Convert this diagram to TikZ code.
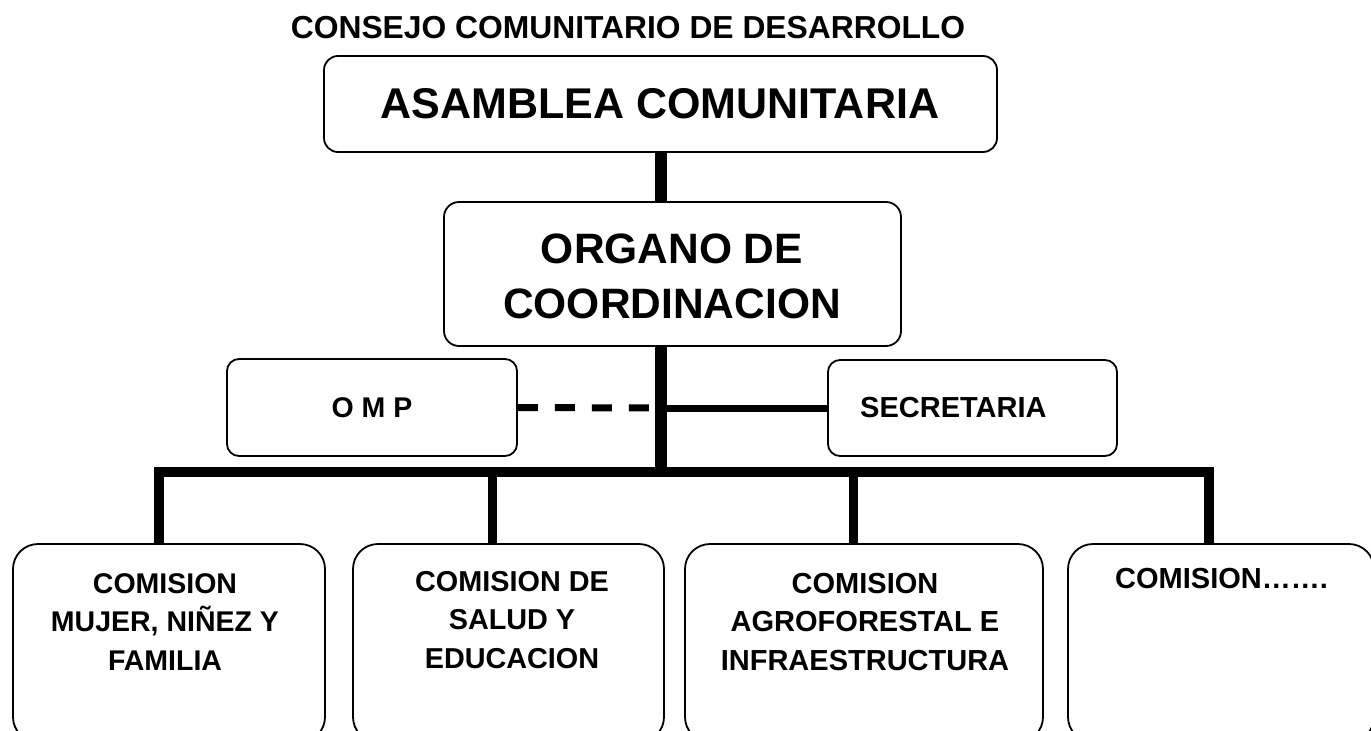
\documentclass[tikz,border=0pt]{standalone}
\usepackage{fontspec}
\setmainfont{Liberation Sans}
\begin{document}
\begin{tikzpicture}[x=1pt,y=-1pt,
  orgbox/.style={draw=black, line width=1.8pt, rectangle, inner sep=0pt, fill=white},
  lbl/.style={inner sep=0pt, font=\bfseries, align=center},
  conn/.style={draw=black, line width=#1, line join=miter, line cap=butt},
  conn/.default=10pt
]
\useasboundingbox (0,0) rectangle (1371,731);
\clip (0,0) rectangle (1371,731);

% title
\node[lbl, anchor=base, font=\bfseries\fontsize{31.8}{36}\selectfont] (title) at (628,38) {CONSEJO COMUNITARIO DE DESARROLLO};

% coordinates for connectors
\coordinate (hub) at (660.5,472);
\coordinate (jn) at (660.5,408);
\coordinate (d1) at (159,472);
\coordinate (d2) at (492,472);
\coordinate (d3) at (853,472);
\coordinate (d4) at (1209,472);

% boxes
\node[orgbox, rounded corners=14pt, minimum width=673pt, minimum height=96pt] (asm) at (660.5,104) {};
\node[orgbox, rounded corners=15pt, minimum width=457pt, minimum height=144pt] (org) at (672.5,274) {};
\node[orgbox, rounded corners=12pt, minimum width=290pt, minimum height=97pt] (omp) at (372,407.5) {};
\node[orgbox, rounded corners=12pt, minimum width=289pt, minimum height=96pt] (sec) at (972.5,408) {};
\node[orgbox, rounded corners=25pt, minimum width=312pt, minimum height=198pt] (c1) at (169,643) {};
\node[orgbox, rounded corners=25pt, minimum width=311pt, minimum height=198pt] (c2) at (508.5,643) {};
\node[orgbox, rounded corners=25pt, minimum width=358pt, minimum height=198pt] (c3) at (864,643) {};
\node[orgbox, rounded corners=25pt, minimum width=306pt, minimum height=198pt] (c4) at (1221,643) {};

% connectors
\draw[conn=7pt, dash pattern=on 20pt off 17pt] (omp.east) -- (jn);
\draw[conn=7pt] (jn) -- (sec.west);
\draw[conn=12pt] (asm.south -| hub) -- (org.north -| hub);
\draw[conn=12pt] (org.south -| hub) -- ([yshift=5pt]hub);
\draw[conn=10pt] (d1 |- c1.north) -- (d1) -- (d4) -- (d4 |- c4.north);
\draw[conn=9pt] (d2) -- (d2 |- c2.north);
\draw[conn=9pt] (d3) -- (d3 |- c3.north);

% texts (multi-line nodes: base anchor = last line baseline)
\node[lbl, anchor=base, font=\bfseries\fontsize{43}{55}\selectfont] (asmT) at (660,118) {ASAMBLEA COMUNITARIA};
\node[lbl, anchor=base, font=\bfseries\fontsize{42.5}{55}\selectfont] (orgT) at (672,318) {ORGANO DE\\COORDINACION};
\node[lbl, anchor=base, font=\bfseries\fontsize{28.5}{34}\selectfont] (ompT) at (372,417) {O M P};
\node[lbl, anchor=base west, font=\bfseries\fontsize{29}{34}\selectfont] (secT) at (860,417) {SECRETARIA};
\node[lbl, anchor=base, font=\bfseries\fontsize{28.5}{38.5}\selectfont] (c1T) at (165,670) {COMISION\\MUJER, NIÑEZ Y\\FAMILIA};
\node[lbl, anchor=base, font=\bfseries\fontsize{28.8}{38.5}\selectfont] (c2T) at (512,668) {COMISION DE\\SALUD Y\\EDUCACION};
\node[lbl, anchor=base, font=\bfseries\fontsize{29}{38.5}\selectfont] (c3T) at (865,670) {COMISION\\AGROFORESTAL E\\INFRAESTRUCTURA};
\node[lbl, anchor=base west, font=\bfseries\fontsize{29}{34}\selectfont] (c4T) at (1115,588) {COMISION…….};
\end{tikzpicture}
\end{document}
